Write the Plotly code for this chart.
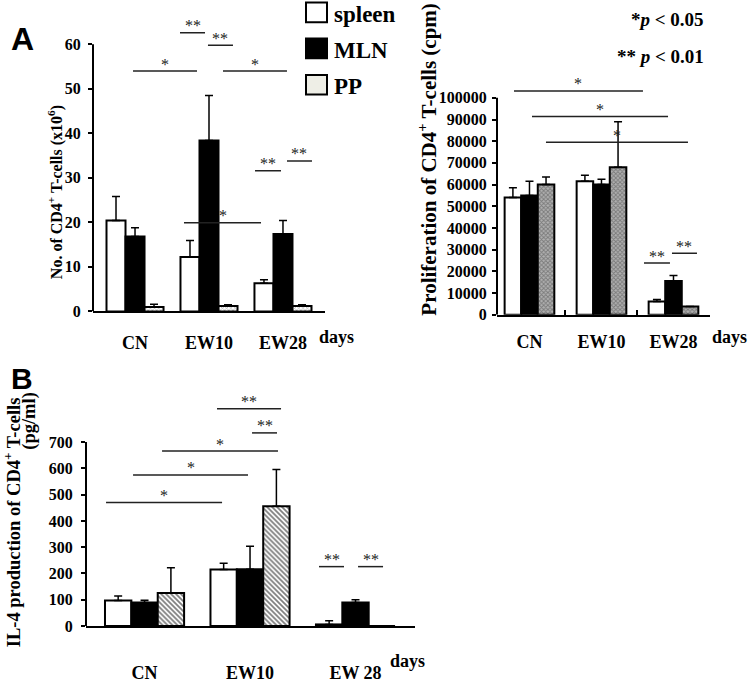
import plotly.graph_objects as go

W, H = 751, 683
SERIF = "Liberation Serif"
SANS = "Liberation Sans"

# ---------------- data ----------------
# Panel A (left): No. of CD4+ T-cells (x10^6)
A1_groups = ["CN", "EW10", "EW28"]
A1_spleen = [20.4, 12.2, 6.3]
A1_spleen_sd = [5.4, 3.7, 0.8]
A1_mln = [16.8, 38.4, 17.4]
A1_mln_sd = [2.0, 10.1, 3.0]
A1_pp = [1.0, 1.2, 1.2]
A1_pp_sd = [0.6, 0.3, 0.3]
A1_yticks = [0, 10, 20, 30, 40, 50, 60]
A1_sig = [(-0.027, 0.838, 54.0, "*"), (1.189, 2.054, 54.0, "*"),
          (0.608, 0.946, 62.6, "**"), (0.986, 1.324, 59.8, "**"),
          (0.662, 1.703, 19.9, "*"), (1.622, 1.973, 31.6, "**"),
          (2.054, 2.392, 33.8, "**")]

# Panel A (right): Proliferation of CD4+ T-cells (cpm)
A2_groups = ["CN", "EW10", "EW28"]
A2_spleen = [54000, 61500, 6000]
A2_spleen_sd = [4500, 2800, 1000]
A2_mln = [55000, 60000, 15500]
A2_mln_sd = [6500, 2500, 2500]
A2_pp = [60000, 68000, 3800]
A2_pp_sd = [3500, 21000, 0]
A2_yticks = [0, 10000, 20000, 30000, 40000, 50000, 60000, 70000, 80000, 90000, 100000]
A2_sig = [(-0.215, 1.576, 103200, "*"), (0.035, 1.924, 91400, "*"),
          (0.229, 2.201, 79500, "*"), (1.590, 1.951, 23800, "**"),
          (1.979, 2.326, 28300, "**")]

# Panel B: IL-4 production of CD4+ T-cells (pg/ml)
B_groups = ["CN", "EW10", "EW 28"]
B_spleen = [97, 215, 6]
B_spleen_sd = [17, 24, 14]
B_mln = [89, 216, 89]
B_mln_sd = [9, 88, 11]
B_pp = [126, 456, 0]
B_pp_sd = [96, 140, 0]
B_yticks = [0, 100, 200, 300, 400, 500, 600, 700]
B_sig = [(-0.365, 0.735, 470, "*"), (-0.109, 0.981, 575, "*"),
         (0.166, 1.265, 666, "*"), (1.019, 1.256, 735, "**"),
         (0.687, 1.294, 827, "**"), (1.654, 1.891, 226, "**"),
         (2.024, 2.261, 226, "**")]

legend_names = ["spleen", "MLN", "PP"]

# ---------------- helpers ----------------
def px(p):
    return p / W


def py(p):
    return 1 - p / H


fig = go.Figure()


def add_panel(xa, ya, groups, series, bw, pp_pattern):
    offsets = [-1.5 * bw, -0.5 * bw, 0.5 * bw]
    styles = [
        dict(color="white"),
        dict(color="black"),
        pp_pattern,
    ]
    for (vals, sd), off, st in zip(series, offsets, styles):
        marker = dict(line=dict(color="black", width=2))
        if "pattern" in st:
            marker["color"] = st["bg"]
            marker["pattern"] = st["pattern"]
        else:
            marker["color"] = st["color"]
        fig.add_trace(go.Bar(
            x=groups, y=vals, xaxis=xa, yaxis=ya, width=bw, offset=off,
            marker=marker, showlegend=False, hoverinfo="skip",
            error_y=dict(type="data", array=sd, arrayminus=[0] * len(sd),
                         symmetric=False, color="black", thickness=1.5, width=4),
        ))


add_panel("x", "y", A1_groups,
          [(A1_spleen, A1_spleen_sd), (A1_mln, A1_mln_sd), (A1_pp, A1_pp_sd)], 0.257,
          dict(bg="white", pattern=dict(shape="x", fgcolor="#555", size=3,
                                        solidity=0.4, fillmode="overlay")))
add_panel("x2", "y2", A2_groups,
          [(A2_spleen, A2_spleen_sd), (A2_mln, A2_mln_sd), (A2_pp, A2_pp_sd)], 0.23,
          dict(bg="#b0b0b0", pattern=dict(shape="x", fgcolor="#444", size=3,
                                          solidity=0.5, fillmode="overlay")))
add_panel("x3", "y3", B_groups,
          [(B_spleen, B_spleen_sd), (B_mln, B_mln_sd), (B_pp, B_pp_sd)], 0.25,
          dict(bg="white", pattern=dict(shape="\\", fgcolor="black", size=3.5,
                                        solidity=0.5, fillmode="overlay")))

tickfont_y = dict(family=SERIF, size=16, color="black", weight="bold")
tickfont_x = dict(family=SERIF, size=18, color="black", weight="bold")


def xaxis(dom, rng, anchor, standoff, **kw):
    d = dict(domain=dom, range=rng, anchor=anchor, showline=True, linecolor="black",
             linewidth=2, showgrid=False, zeroline=False, tickfont=tickfont_x,
             ticks="", ticklabelstandoff=standoff, fixedrange=True)
    d.update(kw)
    return d


def yaxis(dom, rng, anchor, tickvals, standoff):
    return dict(domain=dom, range=rng, anchor=anchor, showline=False, showgrid=False,
                zeroline=False, tickvals=tickvals, ticks="outside", ticklen=4,
                tickwidth=2, tickcolor="black", tickfont=tickfont_y, tickformat="d",
                ticklabelstandoff=standoff, fixedrange=True)


fig.update_layout(
    width=W, height=H, margin=dict(l=0, r=0, t=0, b=0),
    paper_bgcolor="white", plot_bgcolor="white",
    barmode="overlay", showlegend=False,
    xaxis=xaxis([px(93), px(325)], [-0.568, 2.568], "y", 14),
    yaxis=yaxis([py(316), py(17.9)], [0, 66], "x", A1_yticks, 4),
    xaxis2=xaxis([px(497), px(710)], [-0.451, 2.507], "y2", 10,
                 ticks="inside", tickson="boundaries", ticklen=5, tickwidth=2,
                 tickcolor="black"),
    yaxis2=yaxis([py(319.3), py(77.3)], [0, 110000], "x2", A2_yticks, 2),
    xaxis3=xaxis([px(86), px(415)], [-0.555, 2.564], "y3", 29),
    yaxis3=yaxis([py(635.3), py(406)], [0, 860], "x3", B_yticks, 5),
)

shapes = []
annotations = []

# y-axis lines (drawn only up to the top tick)
for xr, yr, top in [("x", "y", 60), ("x2", "y2", 100000), ("x3", "y3", 700)]:
    shapes.append(dict(type="line", xref=f"{xr} domain", yref=yr, x0=0, x1=0, y0=0,
                       y1=top, line=dict(color="black", width=2)))

# significance brackets
for xr, yr, sig in [("x", "y", A1_sig), ("x2", "y2", A2_sig), ("x3", "y3", B_sig)]:
    for x0, x1, yv, lab in sig:
        shapes.append(dict(type="line", xref=xr, yref=yr, x0=x0, x1=x1, y0=yv, y1=yv,
                           line=dict(color="#222", width=1.5)))
        annotations.append(dict(xref=xr, yref=yr, x=(x0 + x1) / 2, y=yv, yshift=7,
                                text=lab, showarrow=False, yanchor="middle",
                                font=dict(family=SERIF, size=16, color="#1a1a1a")))

# "days" labels
bold18 = dict(family=SERIF, size=18, color="black", weight="bold")
for xp, ypix in [(317, 342), (710, 342), (388, 671)]:
    annotations.append(dict(xref="paper", yref="paper", x=px(xp), y=py(ypix), text="days",
                            showarrow=False, xanchor="left", yanchor="middle", font=bold18))

# axis titles
title_font = dict(family=SERIF, size=16, color="black", weight="bold")
annotations += [
    dict(xref="paper", yref="paper", x=px(55), y=py(195), textangle=-90,
         text="No. of CD4<sup>+</sup> T-cells (x10<sup>6</sup>)", showarrow=False,
         xanchor="center", yanchor="middle", font=title_font),
    dict(xref="paper", yref="paper", x=px(428), y=py(162), textangle=-90,
         text="Proliferation of CD4<sup>+</sup> T-cells (cpm)", showarrow=False,
         xanchor="center", yanchor="middle", font=dict(title_font, size=21)),
    dict(xref="paper", yref="paper", x=px(12), y=py(530), textangle=-90,
         text="IL-4 production of CD4<sup>+</sup> T-cells", showarrow=False,
         xanchor="center", yanchor="middle", font=dict(title_font, size=18.5)),
    dict(xref="paper", yref="paper", x=px(30), y=py(427), textangle=-90,
         text="(pg/ml)", showarrow=False,
         xanchor="center", yanchor="middle", font=dict(title_font, size=18.5)),
]

# panel letters
annotations += [
    dict(xref="paper", yref="paper", x=px(22), y=py(40), text="A", showarrow=False,
         xanchor="center", yanchor="middle",
         font=dict(family=SANS, size=32, color="black", weight="bold")),
    dict(xref="paper", yref="paper", x=px(22), y=py(384), text="B", showarrow=False,
         xanchor="center", yanchor="middle",
         font=dict(family=SANS, size=30, color="black", weight="bold")),
]

# p-value key
annotations += [
    dict(xref="paper", yref="paper", x=px(706), y=py(20), text="*<i>p</i> < 0.05",
         showarrow=False, xanchor="right", yanchor="middle", font=dict(bold18, size=19)),
    dict(xref="paper", yref="paper", x=px(706), y=py(57), text="** <i>p</i> < 0.01",
         showarrow=False, xanchor="right", yanchor="middle", font=dict(bold18, size=19)),
]

# manual legend
legend_fills = ["white", "black", "#eeeee6"]
legend_y = [12.5, 49, 86]
for name, fill, yc in zip(legend_names, legend_fills, legend_y):
    shapes.append(dict(type="rect", xref="paper", yref="paper", x0=px(306), x1=px(327),
                       y0=py(yc + 10), y1=py(yc - 10), fillcolor=fill,
                       line=dict(color="black", width=2)))
    annotations.append(dict(xref="paper", yref="paper", x=px(332), y=py(yc + 2), text=name,
                            showarrow=False, xanchor="left", yanchor="middle",
                            font=dict(family=SERIF, size=23, color="black", weight="bold")))

fig.update_layout(shapes=shapes, annotations=annotations)
fig.write_html("out.html", config={"displayModeBar": False, "staticPlot": True},
               post_script="document.body.style.margin='0px';")
